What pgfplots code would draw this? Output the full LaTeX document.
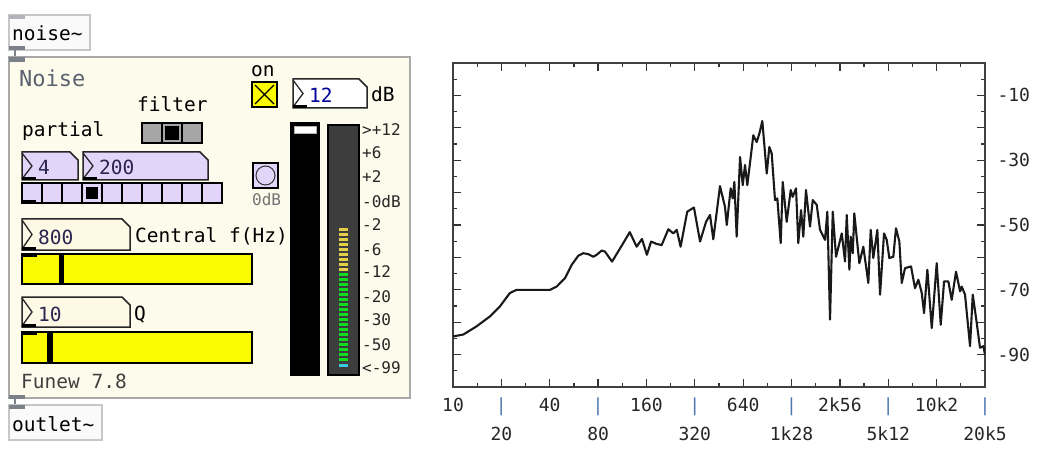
\documentclass[border=0pt]{standalone}
\usepackage{fontspec}
\setmainfont{DejaVu Sans Mono}
\setmonofont{DejaVu Sans Mono}
\usepackage{pgfplots}
\pgfplotsset{compat=1.18}

\definecolor{pdbg}{HTML}{FCFBEC}
\definecolor{pdframe}{HTML}{A9A9A9}
\definecolor{lilac}{HTML}{E3D4FA}
\definecolor{pdyellow}{HTML}{FAFA00}
\definecolor{iogray}{HTML}{7C8088}
\definecolor{ledyel}{HTML}{E6CF48}
\definecolor{ledgrn}{HTML}{10DC20}
\definecolor{ledcyan}{HTML}{38C8E0}
\definecolor{tickbar}{HTML}{4C78B0}
\definecolor{nbcream}{HTML}{FDF9E4}
\definecolor{labgray}{HTML}{5A6270}
\definecolor{numtxt}{HTML}{2A2450}

\newcommand{\pdtick}{\fontsize{18}{29}\selectfont}
\newcommand{\pdsmall}{\fontsize{16}{18}\selectfont}

% number box: x0,y0,x1,y1,fill,text
\newcommand{\nbox}[6]{%
  \draw[fill=#5, draw=black!85, line width=1.5pt] (#1,#2) -- ({#3-8},#2) -- (#3,{#2+8}) -- (#3,#4) -- (#1,#4) -- cycle;
  \draw[black!85, line width=1.3pt] (#1,{#2+1}) -- ({#1+10},{(#2+#4)/2}) -- (#1,{#4-1});
  \fill[black] (#1,{#4-3}) rectangle ({#1+14},#4);
  \node[anchor=base west, inner sep=0, text=numtxt] at ({#1+16},{#4-5.5}) {#6};
}

\begin{document}
\begin{tikzpicture}
\useasboundingbox (0,0) rectangle (1037pt,448pt);
\fill[white] (0,0) rectangle (1037pt,448pt);

% ---- Pd patch panel (left side)
\begin{scope}[shift={(0,448pt)}, x=1pt, y=-1pt, font=\fontsize{19.5}{22}\selectfont]
  % noise~ object
  \draw[draw=black!22, fill=black!2, line width=1.2pt] (9,15) rectangle (90,50);
  \fill[iogray!60] (9,15) rectangle (25,19);
  \fill[iogray] (9,46) rectangle (25,50);
  \draw[iogray, line width=2.5pt] (15,50) -- (15,58);
  \node[anchor=base west, inner sep=0] at (12,41) {noise\textasciitilde};

  % graph-on-parent panel
  \draw[draw=pdframe, fill=pdbg, line width=1.5pt] (9,57) rectangle (410,398);
  \fill[iogray] (9,57) rectangle (25,62);
  \fill[iogray] (9,395) rectangle (25,399);
  \draw[iogray, line width=2.5pt] (15,399) -- (15,406);

  % outlet~ object
  \draw[draw=black!22, fill=black!2, line width=1.2pt] (9,405) rectangle (102,440);
  \fill[iogray] (9,405) rectangle (25,409);
  \node[anchor=base west, inner sep=0] at (12,431) {outlet\textasciitilde};

  % labels
  \node[anchor=base west, inner sep=0, text=labgray, font=\fontsize{22}{24}\selectfont] at (19,87) {Noise};
  \node[anchor=base west, inner sep=0] at (251,77) {on};
  \node[anchor=base west, inner sep=0] at (137,112) {filter};
  \node[anchor=base west, inner sep=0] at (22,137) {partial};
  \node[anchor=base west, inner sep=0] at (135,243) {Central f(Hz)};
  \node[anchor=base west, inner sep=0] at (134,320) {Q};
  \node[anchor=base west, inner sep=0, text=black!75] at (21,388) {Funew 7.8};
  \node[anchor=base west, inner sep=0] at (371,102) {dB};
  \node[anchor=base west, inner sep=0, text=black!55, font=\pdsmall] at (252,206) {0dB};

  % toggle
  \draw[fill=pdyellow, line width=1.5pt] (252,82) rectangle (277,107);
  \draw[line width=1.2pt] (255,85) -- (274,104) (274,85) -- (255,104);

  % filter radio
  \foreach \i in {0,1,2}
    \draw[fill=black!35, line width=1.5pt] ({142+20*\i},123) rectangle ({162+20*\i},143);
  \fill[black] (165,126) rectangle (179,140);

  % partial number boxes and radio
  \nbox{22}{152}{78}{180}{lilac}{4}
  \nbox{83}{152}{208}{180}{lilac}{200}
  \foreach \i in {0,...,9}
    \draw[fill=lilac, line width=1.5pt] ({22+20*\i},183) rectangle ({42+20*\i},203);
  \fill[black] (86,187) rectangle (98,199);
  \fill[black] (22,200) rectangle (36,203);

  % bang
  \draw[fill=lilac, line width=1.5pt] (253,163) rectangle (278,188);
  \draw[fill=lilac, draw=black!80, line width=1pt] (265.5,175.5) circle (9.5);

  % frequency
  \nbox{22}{219}{130}{250}{nbcream}{800}
  \draw[fill=pdyellow, line width=1.5pt] (22,254) rectangle (252,284);
  \fill[black] (22,254) rectangle (37,257);
  \fill[black] (59,254) rectangle (64,284);

  % Q
  \nbox{22}{297}{130}{327}{nbcream}{10}
  \draw[fill=pdyellow, line width=1.5pt] (22,332) rectangle (252,363);
  \fill[black] (22,332) rectangle (37,335);
  \fill[black] (47,332) rectangle (53,363);

  % level number box
  \nbox{293}{79}{367}{108}{white}{\textcolor{blue!60!black}{12}}

  % volume slider
  \draw[fill=black, line width=1.5pt] (291,123) rectangle (319,375);
  \draw[fill=white, draw=black!30, line width=0.8pt] (294,126) rectangle (316,133);

  % VU meter
  \draw[fill=black!76, draw=black, line width=2pt] (328,125) rectangle (359,375);
  \foreach \k in {0,...,8}
    \fill[ledyel] (339,{228+5*\k}) rectangle (348,{231+5*\k});
  \foreach \k in {0,...,17}
    \fill[ledgrn] (339,{273+5*\k}) rectangle (348,{276+5*\k});
  \fill[ledcyan] (339,364) rectangle (348,367);
  \begin{scope}[every node/.style={anchor=west, inner sep=0, font=\pdsmall, text=black!85}]
    \node at (362,130) {>+12};
    \node at (362,153) {+6};
    \node at (362,177) {+2};
    \node at (362,202) {-0dB};
    \node at (362,225) {-2};
    \node at (362,250) {-6};
    \node at (362,272) {-12};
    \node at (362,297) {-20};
    \node at (362,320) {-30};
    \node at (362,345) {-50};
    \node at (362,368) {<-99};
  \end{scope}
\end{scope}

% ---- spectrum (right side)
\begin{axis}[
  at={(453pt,61pt)}, anchor=south west,
  scale only axis, width=532pt, height=324pt,
  xmode=log,
  xmin=10, xmax=20480, ymin=-100, ymax=0,
  xtick={10,20,40,80,160,320,640,1280,2560,5120,10240,20480},
  xticklabels={10\strut, {\textcolor{tickbar}{|}\strut\\20}, 40\strut, {\textcolor{tickbar}{|}\strut\\80},
               160\strut, {\textcolor{tickbar}{|}\strut\\320}, 640\strut, {\textcolor{tickbar}{|}\strut\\1k28},
               2k56\strut, {\textcolor{tickbar}{|}\strut\\5k12}, 10k2\strut, {\textcolor{tickbar}{|}\strut\\20k5}},
  minor xtick={14.142,28.284,56.569,113.14,226.27,452.55,905.10,1810.2,3620.4,7240.8,14482},
  ytick={-100,-90,...,0},
  yticklabels={,-90,,-70,,-50,,-30,,-10,},
  minor ytick={-95,-85,...,-5},
  tick align=inside, tick pos=both,
  yticklabel pos=right, ytick pos=both,
  major tick length=8pt, minor tick length=4pt,
  axis line style={draw=black!75, line width=1.5pt},
  every tick/.style={black!80, line width=1.3pt},
  tick label style={font=\pdtick, text=black!85},
  xticklabel style={align=center, anchor=north, inner sep=2pt, yshift=-2pt},
  yticklabel style={anchor=west, xshift=9pt},
]
\addplot[black!90, line width=2.1pt, line join=round] coordinates {
(10,-84.4) (11.6,-83.8) (14.0,-81.3) (17.0,-78.2) (19.6,-75.1) (22.6,-71.0) (24.9,-70.0)
(40.2,-70.0) (44.2,-69.0) (49.8,-66.4) (54.8,-62.3) (60.2,-59.5) (64.7,-58.7) (69.5,-59.0)
(74.7,-59.8) (78.4,-59.2) (84.2,-57.9) (88.3,-58.2) (97.7,-61.3) (110,-57.1) (126,-52.2)
(139,-56.7) (150,-54.3) (161,-59.2) (171,-55.1) (184,-55.8) (199,-56.2) (219,-51.3)
(235,-52.6) (247,-51.5) (261,-56.7) (287,-45.9) (316,-44.6) (345,-55.1) (376,-49.0)
(398,-46.9) (417,-54.4) (459,-38.0) (493,-44.4) (506,-50.0) (535,-38.7) (551,-41.8)
(564,-36.7) (583,-53.6) (612,-29.0) (636,-37.7) (657,-31.5) (679,-37.7) (713,-29.0)
(740,-22.3) (777,-24.4) (807,-21.8) (842,-17.9) (897,-34.1) (931,-25.9) (963,-27.9)
(1010,-42.3) (1044,-41.8) (1096,-55.6) (1128,-36.7) (1194,-49.0) (1265,-39.2) (1301,-41.3)
(1365,-38.7) (1410,-55.6) (1467,-45.4) (1515,-53.6) (1574,-39.2) (1668,-50.5) (1734,-42.3)
(1837,-43.8) (1925,-51.5) (2068,-54.6) (2138,-45.9) (2222,-79.2) (2310,-45.9) (2422,-59.8)
(2629,-52.6) (2755,-61.3) (2823,-46.9) (2932,-63.8) (2990,-53.6) (3077,-58.7) (3146,-46.4)
(3382,-61.8) (3581,-56.7) (3848,-67.9) (3981,-51.5) (4132,-60.2) (4378,-51.5) (4551,-71.5)
(4818,-52.6) (5007,-54.6) (5198,-60.2) (5504,-59.8) (5719,-51.0) (6001,-55.1) (6211,-67.9)
(6513,-63.3) (7096,-62.8) (7511,-69.5) (7880,-66.9) (8274,-71.0) (8550,-77.2) (8965,-63.8)
(9549,-81.8) (10250,-61.8) (10860,-80.8) (11390,-67.4) (12110,-67.4) (12710,-73.1) (13520,-64.4)
(14330,-70.5) (14670,-69.0) (15380,-71.5) (16530,-87.4) (17180,-71.5) (18190,-80.2) (19070,-87.9)
(20010,-87.4) (20480,-90.0)
};
\end{axis}
\end{tikzpicture}
\end{document}
